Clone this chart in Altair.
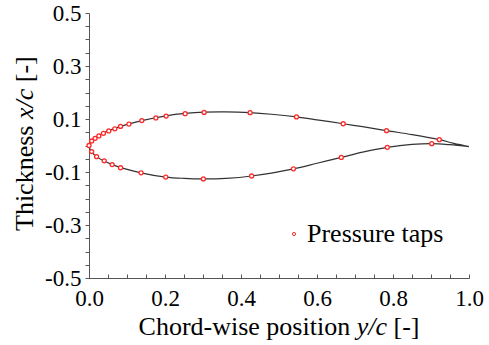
import altair as alt
import pandas as pd

# Airfoil outline (trailing edge -> upper surface -> leading edge -> lower surface -> trailing edge)
profile_x = [1.0, 0.96, 0.922, 0.85, 0.783, 0.72, 0.669, 0.6, 0.546, 0.48, 0.424, 0.36, 0.303,
             0.253, 0.203, 0.139, 0.083, 0.038, 0.016, 0.005, 0.0,
             0.006, 0.02, 0.061, 0.137, 0.202, 0.25, 0.301, 0.36, 0.428, 0.538, 0.6, 0.664,
             0.72, 0.785, 0.85, 0.902, 0.95, 1.0]
profile_y = [-0.004, 0.008, 0.022, 0.041, 0.056, 0.071, 0.082, 0.097, 0.108, 0.118, 0.124, 0.127, 0.126,
             0.121, 0.112, 0.094, 0.072, 0.047, 0.028, 0.013, 0.0,
             -0.021, -0.042, -0.072, -0.103, -0.119, -0.124, -0.126, -0.124, -0.115, -0.088, -0.067, -0.045,
             -0.025, -0.007, 0.004, 0.007, 0.003, -0.004]

# Pressure taps
taps_upper_x = [0.0, 0.007, 0.016, 0.026, 0.038, 0.052, 0.068, 0.083, 0.105, 0.139, 0.176, 0.203,
                0.253, 0.303, 0.424, 0.546, 0.669, 0.783, 0.922]
taps_upper_y = [0.0, 0.017, 0.027, 0.036, 0.046, 0.055, 0.063, 0.072, 0.081, 0.094, 0.104, 0.111,
                0.120, 0.125, 0.124, 0.108, 0.082, 0.056, 0.022]
taps_lower_x = [0.007, 0.020, 0.040, 0.061, 0.083, 0.137, 0.202, 0.301, 0.428, 0.538, 0.664, 0.785, 0.902]
taps_lower_y = [-0.023, -0.042, -0.058, -0.072, -0.084, -0.103, -0.119, -0.126, -0.115, -0.088, -0.045,
                -0.007, 0.007]

x_label_values = [0.0, 0.2, 0.4, 0.6, 0.8, 1.0]
x_tick_values = [0.0, 0.05, 0.1, 0.15, 0.2, 0.25, 0.3, 0.35, 0.4, 0.45, 0.5, 0.55, 0.6, 0.65, 0.7,
                 0.75, 0.8, 0.85, 0.9, 0.95, 1.0]
y_tick_values = [-0.5, -0.45, -0.4, -0.35, -0.3, -0.25, -0.2, -0.15, -0.1, -0.05, 0.0, 0.05, 0.1,
                 0.15, 0.2, 0.25, 0.3, 0.35, 0.4, 0.45, 0.5]

FONT = "Liberation Serif"
AXIS_COLOR = "#555555"
TAP_COLOR = "#ff2a2a"

profile = pd.DataFrame({"x": profile_x, "y": profile_y, "order": list(range(len(profile_x)))})
taps = pd.DataFrame({
    "x": taps_upper_x + taps_lower_x,
    "y": taps_upper_y + taps_lower_y,
    "series": ["Pressure taps"] * (len(taps_upper_x) + len(taps_lower_x)),
})

xscale = alt.Scale(domain=[0, 1], nice=False, zero=False)
yscale = alt.Scale(domain=[-0.5, 0.5], nice=False, zero=False)

line = alt.Chart(profile).mark_line(
    color="#333333", strokeWidth=1.2, interpolate="catmull-rom"
).encode(
    x=alt.X("x:Q", scale=xscale, axis=alt.Axis(
        orient="bottom", values=x_label_values, ticks=False, tickSize=0, title=None,
        labelExpr="format(datum.value, '.1f')", labelFlush=False, labelOverlap=False,
        labelPadding=9, labelFontSize=23, labelFont=FONT, labelColor="black",
        domainColor=AXIS_COLOR, domainWidth=1, grid=False)),
    y=alt.Y("y:Q", scale=yscale, axis=alt.Axis(
        orient="left", values=y_tick_values, tickSize=4, tickColor=AXIS_COLOR, tickWidth=1,
        title=None, labelFlush=False, labelOverlap=False, labelPadding=4,
        labelExpr="(abs(round(datum.value*100)) % 20 == 10) ? ((datum.value < 0 ? '-' : '') + format(abs(datum.value), '.1f')) : ''",
        labelFontSize=23, labelFont=FONT, labelColor="black",
        domainColor=AXIS_COLOR, domainWidth=1, grid=False)),
    order="order:Q",
)

points = alt.Chart(taps).mark_point(
    shape="circle", size=16, strokeWidth=1.3, fill="white", filled=False, fillOpacity=1, opacity=1
).encode(
    x=alt.X("x:Q", scale=xscale, axis=alt.Axis(
        orient="top", offset=-265, values=x_tick_values, tickSize=4, tickColor=AXIS_COLOR,
        labels=False, domain=False, title=None, grid=False)),
    y=alt.Y("y:Q", scale=yscale, axis=None),
    stroke=alt.Stroke("series:N", scale=alt.Scale(range=[TAP_COLOR]), legend=alt.Legend(
        title=None, orient="none", legendX=192, legendY=208, labelFontSize=26, labelFont=FONT,
        labelColor="black", symbolType="circle", symbolSize=10, symbolStrokeWidth=1,
        symbolFillColor="#ffb0b0", labelOffset=0, padding=0)),
)


def label(text, x, y, angle=0, italic=False):
    kw = dict(text=text, font=FONT, fontSize=26, align="left", baseline="alphabetic",
              angle=angle, color="black")
    if italic:
        kw["fontStyle"] = "italic"
    return alt.Chart(pd.DataFrame({"k": [0]})).mark_text(**kw).encode(x=alt.value(x), y=alt.value(y))


em = 26
# x-axis title pieces: "Chord-wise position " + italic "y/c" + " [-]"
x0 = 190 - 10.804 * em / 2
xt = [label("Chord-wise position", x0, 322),
      label("y/c", x0 + 8.389 * em, 322, italic=True),
      label("[-]", x0 + 9.805 * em, 322)]
# y-axis title pieces (rotated)
y0 = 218
yt = [label("Thickness", -56, y0, angle=270),
      label("x/c", -56, y0 - 4.305 * em, angle=270, italic=True),
      label("[-]", -56, y0 - 5.721 * em, angle=270)]

chart = alt.layer(line, points, *xt, *yt).resolve_axis(x="independent", y="independent").properties(
    width=380, height=265,
    autosize=alt.AutoSizeParams(type="none"),
    padding={"left": 89, "top": 13, "right": 20, "bottom": 67},
).configure_view(stroke=None)

chart.save("out.html", embed_options={"renderer": "svg", "actions": False})
